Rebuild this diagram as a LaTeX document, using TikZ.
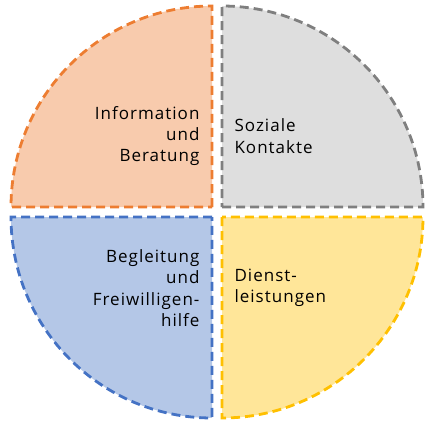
\documentclass[tikz,border=0pt]{standalone}
\usepackage{fontspec}
\setmainfont{Open Sans}[LetterSpace=6]
\definecolor{orangeline}{HTML}{ED7D31}
\definecolor{orangefill}{HTML}{F8CBAD}
\definecolor{grayline}{HTML}{7F7F7F}
\definecolor{grayfill}{HTML}{DEDEDE}
\definecolor{blueline}{HTML}{4472C4}
\definecolor{bluefill}{HTML}{B4C7E7}
\definecolor{yellowline}{HTML}{FFC000}
\definecolor{yellowfill}{HTML}{FFE699}
\tikzset{
	quarter/.style={line width=2.8pt, dash pattern=on 9pt off 5pt},
	lefttext/.style={align=right, anchor=east, font=\fontsize{17}{21.3}\selectfont},
	righttext/.style={align=left, anchor=west, font=\fontsize{17}{21.3}\selectfont}
}

\begin{document}
\begin{tikzpicture}[x=1pt, y=1pt]
		%%%%% START %%%%%
		
		\useasboundingbox (0, 0) rectangle (426, 424);
		
		\draw[quarter, draw=orangeline, fill=orangefill] (212, 217) -- (212, 418) arc (90:180:201) -- cycle;
		\draw[quarter, draw=grayline, fill=grayfill] (222, 217) -- (423, 217) arc (0:90:201) -- cycle;
		\draw[quarter, draw=blueline, fill=bluefill] (212, 207) -- (11, 207) arc (180:270:201) -- cycle;
		\draw[quarter, draw=yellowline, fill=yellowfill] (222, 207) -- (222, 6) arc (270:360:201) -- cycle;
		
		\node[lefttext] (info) at (203, 288) {Information\\und\\Beratung};
		\node[righttext] (sozial) at (231, 288) {Soziale\\Kontakte};
		\node[lefttext] (begleit) at (203, 136) {Begleitung\\und\\Freiwilligen-\\hilfe};
		\node[righttext] (dienst) at (231, 136) {Dienst-\\leistungen};
		
		%%%%% END %%%%%
	\end{tikzpicture}
\end{document}
